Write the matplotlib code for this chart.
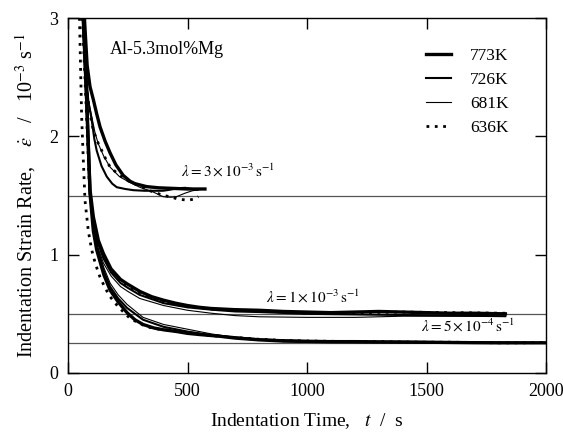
import matplotlib
matplotlib.use("Agg")
import matplotlib.pyplot as plt
from matplotlib.lines import Line2D

plt.rcParams['font.family'] = ['Liberation Serif', 'DejaVu Serif']
plt.rcParams['mathtext.fontset'] = 'stix'

# ---- data (t in s, strain rate in 1e-3 s^-1) ----
# lambda = 3e-3 s^-1 group
t_773_a = [62, 70, 80, 92, 106, 120, 134, 155, 176, 200, 231, 260, 280, 329, 380, 440, 500, 573]
y_773_a = [3.3, 2.95, 2.6, 2.42, 2.31, 2.19, 2.08, 1.96, 1.86, 1.76, 1.67, 1.62, 1.60, 1.575, 1.565, 1.56, 1.555, 1.555]
t_726_a = [64, 75, 85, 99, 110, 120, 140, 162, 185, 204, 240, 273, 320, 398, 430, 454, 490, 520, 540]
y_726_a = [3.0, 2.55, 2.3, 2.14, 1.98, 1.88, 1.75, 1.66, 1.60, 1.57, 1.555, 1.545, 1.54, 1.54, 1.55, 1.56, 1.565, 1.555, 1.55]
t_681_a = [64, 75, 85, 99, 112, 126, 150, 176, 215, 259, 300, 356, 398, 430, 454, 490, 520, 552]
y_681_a = [3.0, 2.55, 2.3, 2.17, 2.04, 1.94, 1.83, 1.74, 1.66, 1.61, 1.57, 1.53, 1.49, 1.485, 1.49, 1.52, 1.54, 1.55]
t_636_a = [64, 78, 92, 106, 120, 134, 155, 176, 210, 245, 300, 343, 400, 427, 460, 500, 530, 545]
y_636_a = [3.0, 2.4, 2.19, 2.05, 1.97, 1.91, 1.82, 1.74, 1.68, 1.63, 1.58, 1.54, 1.50, 1.49, 1.47, 1.46, 1.47, 1.49]

# lambda = 1e-3 s^-1 group
t_773_b = [64, 78, 92, 106, 127, 148, 180, 220, 250, 300, 350, 400, 450, 500, 550, 600, 700, 800, 900,
           1000, 1100, 1200, 1300, 1400, 1500, 1600, 1700, 1830]
y_773_b = [3.0, 2.31, 1.55, 1.32, 1.12, 1.01, 0.88, 0.79, 0.75, 0.69, 0.645, 0.615, 0.59, 0.57, 0.555,
           0.545, 0.535, 0.53, 0.52, 0.515, 0.51, 0.515, 0.52, 0.515, 0.51, 0.505, 0.505, 0.50]
t_726_b = [64, 78, 92, 106, 127, 148, 180, 220, 250, 300, 400, 500, 600, 700, 800, 1000, 1200, 1400, 1600, 1830]
y_726_b = [3.0, 2.31, 1.53, 1.29, 1.09, 0.97, 0.85, 0.76, 0.72, 0.66, 0.59, 0.555, 0.535, 0.52, 0.515,
           0.50, 0.495, 0.49, 0.485, 0.48]
t_681_b = [64, 78, 92, 106, 127, 148, 180, 220, 250, 300, 400, 500, 600, 700, 800, 1000, 1200, 1300, 1400, 1600, 1830]
y_681_b = [3.0, 2.31, 1.5, 1.25, 1.05, 0.93, 0.82, 0.73, 0.69, 0.63, 0.57, 0.53, 0.505, 0.485, 0.475,
           0.47, 0.47, 0.475, 0.48, 0.48, 0.48]
t_636_b = [60, 75, 90, 106, 127, 148, 180, 220, 250, 300, 400, 500, 600, 800, 1000, 1200, 1400, 1600, 1830]
y_636_b = [3.0, 2.3, 1.55, 1.3, 1.1, 0.99, 0.86, 0.77, 0.73, 0.68, 0.60, 0.56, 0.54, 0.525, 0.505,
           0.51, 0.515, 0.51, 0.505]

# lambda = 5e-4 s^-1 group
t_773_c = [64, 78, 92, 106, 120, 150, 176, 210, 247, 280, 314, 360, 400, 456, 500, 550, 636, 700, 800,
           900, 1000, 1100, 1200, 1300, 1400, 1500, 1600, 1700, 1800, 1900, 2000]
y_773_c = [3.0, 2.31, 1.52, 1.2, 1.04, 0.83, 0.70, 0.60, 0.51, 0.45, 0.41, 0.38, 0.365, 0.35, 0.335,
           0.325, 0.31, 0.295, 0.28, 0.27, 0.268, 0.265, 0.265, 0.263, 0.262, 0.26, 0.258, 0.256,
           0.255, 0.255, 0.255]
t_726_c = [64, 78, 92, 106, 120, 150, 176, 210, 247, 314, 400, 500, 600, 800, 1000, 1200, 1500, 1800, 2000]
y_726_c = [3.0, 2.31, 1.52, 1.22, 1.06, 0.86, 0.73, 0.63, 0.55, 0.45, 0.39, 0.35, 0.32, 0.285, 0.27,
           0.265, 0.262, 0.258, 0.255]
t_681_c = [64, 78, 92, 106, 120, 150, 176, 210, 247, 314, 400, 500, 600, 700, 800, 900, 1000, 1200, 1500, 2000]
y_681_c = [3.0, 2.31, 1.52, 1.24, 1.08, 0.89, 0.76, 0.66, 0.58, 0.47, 0.41, 0.37, 0.33, 0.30, 0.28,
           0.265, 0.258, 0.255, 0.252, 0.25]
t_636_c = [48, 57, 64, 71, 85, 99, 115, 134, 155, 176, 210, 260, 329, 380, 440, 500, 600, 700, 800, 900,
           1000, 1100, 1200, 1300, 1400, 1500, 1600, 1700, 1800, 1900, 2000]
y_636_c = [3.0, 2.17, 1.80, 1.46, 1.2, 1.04, 0.92, 0.81, 0.72, 0.645, 0.56, 0.46, 0.39, 0.37, 0.36,
           0.34, 0.315, 0.30, 0.285, 0.275, 0.27, 0.268, 0.265, 0.265, 0.262, 0.26, 0.26, 0.258,
           0.255, 0.255, 0.258]

lambda_levels = [1.5, 0.5, 0.25]
lambda_labels = [r'$\lambda = 3\times10^{-3}\,\mathrm{s}^{-1}$',
                 r'$\lambda = 1\times10^{-3}\,\mathrm{s}^{-1}$',
                 r'$\lambda = 5\times10^{-4}\,\mathrm{s}^{-1}$']
temps = ['773K', '726K', '681K', '636K']
x_ticks = [0, 500, 1000, 1500, 2000]
y_ticks = [0, 1, 2, 3]

# ---- styles ----
styles = {
    '773K': dict(color='black', lw=2.4, ls='-'),
    '726K': dict(color='black', lw=1.5, ls='-'),
    '681K': dict(color='black', lw=0.8, ls='-'),
    '636K': dict(color='black', lw=2.0, ls=(0, (1, 2))),
}

fig = plt.figure(figsize=(5.63, 4.32), dpi=100)
ax = fig.add_axes([0.1208, 0.1366, 0.849, 0.8217])

for lv in lambda_levels:
    ax.axhline(lv, color='#555555', lw=0.9, zorder=1)

curves = [
    ('773K', t_773_a, y_773_a), ('726K', t_726_a, y_726_a), ('681K', t_681_a, y_681_a), ('636K', t_636_a, y_636_a),
    ('773K', t_773_b, y_773_b), ('726K', t_726_b, y_726_b), ('681K', t_681_b, y_681_b), ('636K', t_636_b, y_636_b),
    ('773K', t_773_c, y_773_c), ('726K', t_726_c, y_726_c), ('681K', t_681_c, y_681_c), ('636K', t_636_c, y_636_c),
]
for temp, t, y in curves:
    ax.plot(t, y, zorder=2, **styles[temp])

ax.set_xlim(0, 2000)
ax.set_ylim(0, 3)
ax.set_xticks(x_ticks)
ax.set_yticks(y_ticks)
ax.tick_params(direction='in', top=True, right=True, length=8, width=1, labelsize=13, pad=7)
ax.set_xticklabels([str(v) for v in x_ticks])
ax.set_yticklabels([str(v) for v in y_ticks])
for s in ax.spines.values():
    s.set_linewidth(1.0)

ax.set_xlabel(r'Indentation Time,   $t$  /  s', fontsize=14, labelpad=8)
ax.set_ylabel(r'Indentation Strain Rate,    $\dot{\varepsilon}$   /   10$^{-3}$ s$^{-1}$', fontsize=14.5, labelpad=8)

ax.text(176, 2.73, 'Al-5.3mol%Mg', fontsize=13, va='center', ha='left')

ax.text(669, 1.71, lambda_labels[0], fontsize=11, ha='center', va='center')
ax.text(1024, 0.64, lambda_labels[1], fontsize=11, ha='center', va='center')
ax.text(1676, 0.40, lambda_labels[2], fontsize=11, ha='center', va='center')

handles = [Line2D([0], [0], **styles[tp]) for tp in temps]
ax.legend(handles, temps, loc='upper right', bbox_to_anchor=(0.955, 0.96), frameon=False,
          fontsize=12.5, handlelength=1.45, handletextpad=1.1, labelspacing=0.45)

fig.savefig('out.png', dpi=100)
